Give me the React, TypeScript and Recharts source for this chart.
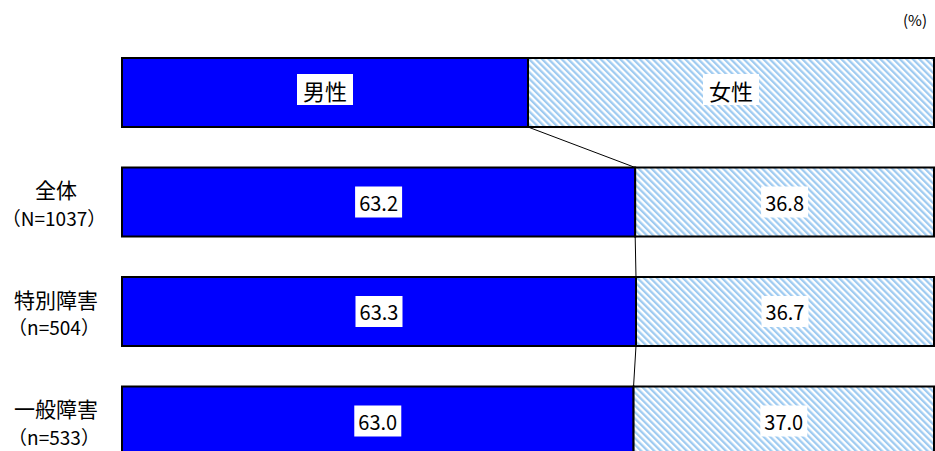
import React from 'react';
import { BarChart, Bar, XAxis, YAxis, LabelList } from 'recharts';

const categories = ['', '全体', '特別障害', '一般障害'];
const sampleSizes = ['', '（N=1037）', '（n=504）', '（n=533）'];
const maleValues = [50, 63.2, 63.3, 63.0];
const femaleValues = [50, 36.8, 36.7, 37.0];
const seriesNames = ['男性', '女性'];

const CHART_W = 935;
const CHART_H = 476;
const MARGIN = { top: 38, right: 1, left: 0, bottom: 0 };
const STEP = (CHART_H - MARGIN.top - MARGIN.bottom) / categories.length;
const FONT = '"Noto Sans CJK JP", "Noto Sans", sans-serif';

const data = categories.map((name, i) => ({
  name,
  sub: sampleSizes[i],
  male: maleValues[i],
  female: femaleValues[i],
}));

function MaleShape(props: any) {
  const { x, y, width, height, index } = props;
  const next = maleValues[index + 1];
  return (
    <g>
      <rect x={x} y={y} width={width} height={height} fill="#0000ff" stroke="#000" strokeWidth={2} />
      {next !== undefined && (
        <line
          x1={x + width}
          y1={y + height}
          x2={x + (width * next) / maleValues[index]}
          y2={y + STEP}
          stroke="#000"
          strokeWidth={1}
        />
      )}
    </g>
  );
}

function FemaleShape(props: any) {
  const { x, y, width, height } = props;
  return <rect x={x} y={y} width={width} height={height} fill="url(#hatchBlue)" stroke="#000" strokeWidth={2} />;
}

function makeLabel(series: number) {
  return function BoxLabel(props: any) {
    const { x, y, width, height, value, index } = props;
    const text = index === 0 ? seriesNames[series] : Number(value).toFixed(1);
    const boxW = index === 0 ? 56 : 47;
    const boxH = 31;
    const cx = x + width / 2;
    const cy = y + height / 2 + (index === 0 ? -3 : 0);
    return (
      <g>
        <rect x={cx - boxW / 2} y={cy - boxH / 2} width={boxW} height={boxH} fill="#fff" />
        <text
          x={cx}
          y={cy}
          textAnchor="middle"
          dominantBaseline="central"
          fontSize={index === 0 ? 22 : 20}
          fontFamily={FONT}
          fill="#000"
        >
          {text}
        </text>
      </g>
    );
  };
}

function CategoryTick(props: any) {
  const { y, payload, index } = props;
  const row = data[index] ?? data.find((d) => d.name === payload.value);
  if (!row || !row.name) return null;
  return (
    <g>
      <text x={56} y={y - 13} textAnchor="middle" dominantBaseline="central" fontSize={21} fontFamily={FONT} fill="#000">
        {row.name}
      </text>
      <text x={54} y={y + 15} textAnchor="middle" dominantBaseline="central" fontSize={19} fontFamily={FONT} fill="#000">
        {row.sub}
      </text>
    </g>
  );
}

export default function App() {
  return (
    <div
      style={{
        position: 'absolute',
        top: 0,
        left: 0,
        width: CHART_W,
        height: 451,
        overflow: 'hidden',
        background: '#fff',
      }}
    >
      <svg width={0} height={0} style={{ position: 'absolute' }}>
        <defs>
          <pattern id="hatchBlue" patternUnits="userSpaceOnUse" width={4.6} height={4.6} patternTransform="rotate(-45)">
            <rect width={4.6} height={4.6} fill="#ffffff" />
            <rect width={2.3} height={4.6} fill="#9fcbf1" />
          </pattern>
        </defs>
      </svg>
      <div
        style={{
          position: 'absolute',
          top: 9,
          left: 903,
          fontSize: 15,
          fontFamily: FONT,
          color: '#000',
        }}
      >
        (%)
      </div>
      <BarChart
        width={CHART_W}
        height={CHART_H}
        data={data}
        layout="vertical"
        margin={MARGIN}
        barSize={69}
      >
        <XAxis type="number" domain={[0, 100]} hide />
        <YAxis
          type="category"
          dataKey="name"
          width={122}
          axisLine={false}
          tickLine={false}
          tick={<CategoryTick />}
          interval={0}
        />
        <Bar dataKey="male" stackId="a" shape={<MaleShape />} isAnimationActive={false}>
          <LabelList dataKey="male" content={makeLabel(0)} />
        </Bar>
        <Bar dataKey="female" stackId="a" shape={<FemaleShape />} isAnimationActive={false}>
          <LabelList dataKey="female" content={makeLabel(1)} />
        </Bar>
      </BarChart>
    </div>
  );
}
